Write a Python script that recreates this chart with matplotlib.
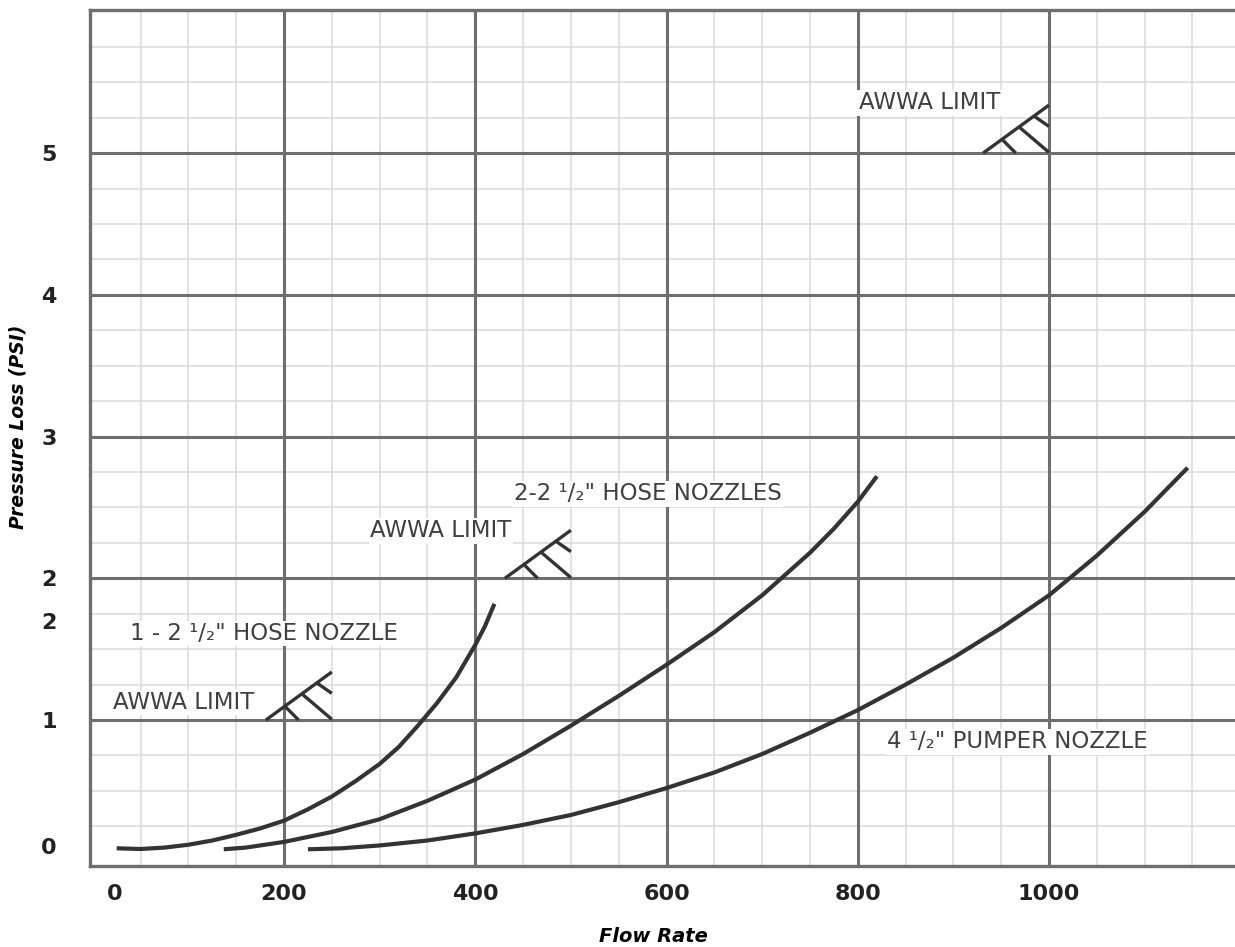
import numpy as np
import matplotlib.pyplot as plt
import matplotlib.transforms as mtransforms

# Curves: flow rate vs pressure loss
one_hose_x = [25, 50, 75, 100, 125, 150, 175, 200, 225, 250, 275, 300,
              320, 340, 360, 380, 400, 410, 420]
one_hose_y = [0.095, 0.09, 0.10, 0.12, 0.15, 0.19, 0.235, 0.29, 0.37, 0.46, 0.57, 0.69,
              0.81, 0.96, 1.12, 1.30, 1.53, 1.66, 1.82]

two_hose_x = [137, 160, 200, 250, 300, 350, 400, 450, 500, 550, 600, 650,
              700, 750, 775, 800, 820]
two_hose_y = [0.088, 0.10, 0.14, 0.21, 0.30, 0.43, 0.58, 0.76, 0.96, 1.17, 1.39, 1.62,
              1.88, 2.18, 2.35, 2.54, 2.72]

pumper_x = [225, 260, 300, 350, 400, 450, 500, 550, 600, 650, 700, 750,
            800, 850, 900, 950, 1000, 1050, 1100, 1145]
pumper_y = [0.088, 0.095, 0.115, 0.15, 0.20, 0.26, 0.33, 0.42, 0.52, 0.63, 0.76, 0.91,
            1.07, 1.25, 1.44, 1.65, 1.88, 2.16, 2.47, 2.78]

# AWWA limit corners (flow, pressure)
awwa_x = [250, 500, 1000]
awwa_y = [1, 2, 5]

# Tick labels as printed on the chart (the odd ones included)
x_tick_pos = [23, 200, 400, 600, 800, 1000]
x_tick_labels = ['0', '200', '400', '600', '800', '1000']
y_tick_pos = [0.11, 1, 1.7, 2, 3, 4, 5]
y_tick_labels = ['0', '1', '2', '2', '3', '4', '5']

# Text labels: (text, x, baseline y)
labels = [
    ('AWWA LIMIT', 875, 5.31),
    ('2-2 \u00b9/\u2082" HOSE NOZZLES', 580, 2.55),
    ('AWWA LIMIT', 364, 2.29),
    ('1 - 2 \u00b9/\u2082" HOSE NOZZLE', 179, 1.564),
    ('AWWA LIMIT', 95, 1.078),
    ('4 \u00b9/\u2082" PUMPER NOZZLE', 967, 0.80),
]

MAJOR = '#6e6e6e'
MINOR = '#dadada'
INK = '#333333'
TEXT = '#404040'

fig = plt.figure(figsize=(12.35, 9.47), dpi=100)
ax = fig.add_axes([90 / 1235, 81 / 947, 1 - 90 / 1235, 856 / 947])
ax.set_xlim(-2.9, 1194.5)
ax.set_ylim(-0.03, 6.01)

# Grid paper
for gx in np.arange(50, 1200, 50):
    if gx % 200 == 0:
        continue
    ax.axvline(gx, color=MINOR, lw=1.1, zorder=0)
for gy in np.arange(0.25, 6.0, 0.25):
    if gy % 1 == 0:
        continue
    ax.axhline(gy, color=MINOR, lw=1.1, zorder=0)
for gx in range(200, 1200, 200):
    ax.axvline(gx, color=MAJOR, lw=2.2, zorder=1)
for gy in range(1, 6):
    ax.axhline(gy, color=MAJOR, lw=2.2, zorder=1)

for sp in ['left', 'top', 'bottom']:
    ax.spines[sp].set_color(MAJOR)
    ax.spines[sp].set_linewidth(2.4)
ax.spines['right'].set_visible(False)

# Curves
for xs, ys in [(one_hose_x, one_hose_y), (two_hose_x, two_hose_y), (pumper_x, pumper_y)]:
    ax.plot(xs, ys, color=INK, lw=3.0, solid_capstyle='butt',
            solid_joinstyle='round', zorder=4)

# AWWA limit symbols: diagonal with hatches, in points relative to the corner
symbol = [
    [(-47.5, 0), (0, 34.6)],
    [(-33.8, 9.9), (-23.9, 0)],
    [(-21.6, 18.9), (0, 0.5)],
    [(-10.8, 26.7), (0, 19.2)],
]
for ax_x, ax_y in zip(awwa_x, awwa_y):
    trans = mtransforms.Affine2D().scale(fig.dpi / 72) + \
        mtransforms.ScaledTranslation(ax_x, ax_y, ax.transData)
    for seg in symbol:
        sx, sy = zip(*seg)
        ax.plot(sx, sy, color=INK, lw=2.4, transform=trans,
                solid_capstyle='butt', zorder=4, clip_on=False)

for txt, tx, ty in labels:
    ax.text(tx, ty, txt, ha='center', va='baseline', fontsize=16.5,
            color=TEXT, zorder=3,
            bbox=dict(facecolor='white', edgecolor='none', pad=1.0))

ax.set_xticks(x_tick_pos, x_tick_labels)
ax.set_yticks(y_tick_pos, y_tick_labels)
ax.tick_params(axis='both', length=0, labelsize=16, labelcolor='#222222')
ax.tick_params(axis='x', pad=13)
ax.tick_params(axis='y', pad=24)
for lbl in ax.get_xticklabels() + ax.get_yticklabels():
    lbl.set_fontweight('bold')

ax.set_xlabel('Flow Rate', fontsize=14, fontweight='bold', fontstyle='italic', va='center')
ax.xaxis.set_label_coords(0.492, -0.082)
ax.set_ylabel('Pressure Loss (PSI)', fontsize=13.5, fontweight='bold', fontstyle='italic', va='center')
ax.yaxis.set_label_coords(-0.063, 0.513)

fig.savefig('out.png', dpi=100, facecolor='white')
